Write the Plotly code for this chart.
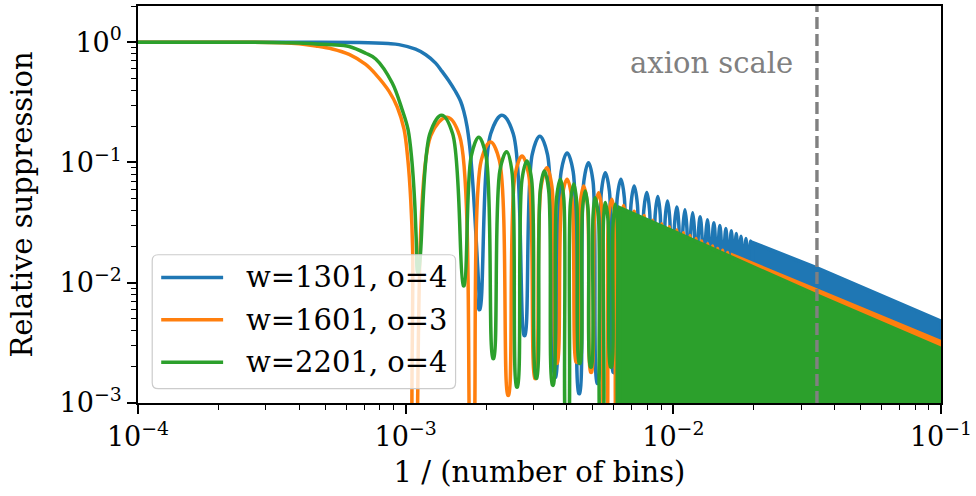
import numpy as np
import plotly.graph_objects as go

# x = 1 / (number of bins), y = relative suppression of the smoothing filter

# ---- w=1301, o=4 ----
blue_main_x = [1e-4, 2.5e-4, 4.5e-4, 6.7e-4, 7.73e-4, 8.6e-4, 9.44e-4, 1.089e-3, 1.189e-3, 1.294e-3,
               1.367e-3, 1.449e-3, 1.534e-3, 1.604e-3, 1.648e-3, 1.695e-3, 1.735e-3,
               1.770e-3, 1.806e-3, 1.845e-3, 1.878e-3]
blue_main_y = [1.0, 1.0, 0.999, 0.994, 0.986, 0.974, 0.955, 0.875, 0.787, 0.67,
               0.572, 0.479, 0.391, 0.323, 0.267, 0.200, 0.136,
               0.082, 0.042, 0.0180, 0.0082]
blue_peak_x = [2.29e-3, 3.17e-3, 4.01e-3, 4.82e-3, 5.57e-3, 6.37e-3, 7.14e-3, 7.96e-3,
               8.75e-3, 9.51e-3, 0.0103, 0.01105, 0.01181, 0.01259, 0.0134, 0.01417,
               0.01492, 0.01571, 0.01647, 0.01719, 0.0179, 0.01868, 0.01943]
blue_peak_y = [0.247, 0.1655, 0.120, 0.0995, 0.0822, 0.0725, 0.0637, 0.0563,
               0.0522, 0.0479, 0.0427, 0.0405, 0.0381, 0.0353, 0.0334, 0.0315,
               0.0299, 0.0282, 0.0271, 0.0257, 0.0244, 0.0233, 0.0222]
blue_shoulder_x = [2.078e-3, 2.523e-3, 2.969e-3, 3.388e-3, 3.810e-3, 4.224e-3, 4.631e-3, 5.011e-3,
                   5.387e-3, 5.771e-3, 6.172e-3, 6.562e-3, 6.948e-3, 7.342e-3, 7.752e-3, 8.157e-3,
                   8.553e-3, 8.938e-3, 9.318e-3, 9.703e-3, 0.010098, 0.010489, 0.010863, 0.011238,
                   0.011618, 0.012003, 0.012394, 0.012793, 0.013199, 0.013589, 0.013974, 0.014359,
                   0.014734, 0.015119, 0.015514, 0.015899, 0.016279, 0.016649, 0.017009, 0.017369,
                   0.017724, 0.018094, 0.018484, 0.018869, 0.019244, 0.019614]
blue_shoulder_y = [0.173, 0.173, 0.116, 0.116, 0.084, 0.084, 0.0697, 0.0697,
                   0.0575, 0.0575, 0.0508, 0.0508, 0.0446, 0.0446, 0.0394, 0.0394,
                   0.0365, 0.0365, 0.0335, 0.0335, 0.0299, 0.0299, 0.0284, 0.0284,
                   0.0267, 0.0267, 0.0247, 0.0247, 0.0234, 0.0234, 0.0221, 0.0221,
                   0.0209, 0.0209, 0.0197, 0.0197, 0.0190, 0.0190, 0.0180, 0.0180,
                   0.0171, 0.0171, 0.0163, 0.0163, 0.0155, 0.0155]
blue_null_x = [1.886e-3, 2.78e-3, 3.62e-3, 4.45e-3, 5.21e-3, 5.98e-3, 6.76e-3, 7.55e-3,
               8.36e-3, 9.13e-3, 9.9e-3, 0.01068, 0.01143, 0.0122, 0.013, 0.01378,
               0.01455, 0.01532, 0.01609, 0.01683, 0.01755, 0.01829, 0.01906, 0.0198]
blue_null_y = [0.0060, 0.00365, 0.00164, 0.0012, 0.00146, 0.0018, 5e-4, 5e-4,
               5e-4, 5e-4, 5e-4, 5e-4, 5e-4, 5e-4, 5e-4, 5e-4,
               5e-4, 5e-4, 5e-4, 5e-4, 5e-4, 5e-4, 5e-4, 5e-4]
blue_env_x = [0.0198, 0.0344, 0.1]
blue_env_y = [0.0216, 0.0133, 0.0048]

# ---- w=1601, o=3 ----
orange_main_x = [1e-4, 2.5e-4, 3.46e-4, 4.0e-4, 4.62e-4, 5.32e-4, 6.15e-4, 7.09e-4, 7.73e-4,
                 8.67e-4, 9.31e-4, 9.86e-4, 1.020e-3, 1.045e-3, 1.062e-3]
orange_main_y = [1.0, 1.0, 0.99, 0.970, 0.930, 0.878, 0.791, 0.653, 0.540,
                 0.390, 0.288, 0.189, 0.103, 0.048, 0.0185]
orange_peak_x = [1.429e-3, 2.075e-3, 2.722e-3, 3.373e-3, 4.009e-3, 4.624e-3, 5.26e-3,
                 5.89e-3, 6.52e-3, 7.14e-3, 7.78e-3, 8.38e-3, 9.05e-3, 9.67e-3,
                 0.0103, 0.01091, 0.01155, 0.01216, 0.01276, 0.01344, 0.01402,
                 0.01464, 0.01528, 0.01595, 0.01665]
orange_peak_y = [0.238, 0.148, 0.113, 0.0904, 0.0725, 0.0637, 0.0561,
                 0.0495, 0.0438, 0.0393, 0.0362, 0.0331, 0.0310, 0.0292,
                 0.0274, 0.0260, 0.0247, 0.0233, 0.0222, 0.0211, 0.0202,
                 0.0193, 0.0186, 0.0178, 0.0170]
orange_shoulder_x = [1.241e-3, 1.590e-3, 1.916e-3, 2.239e-3, 2.564e-3, 2.881e-3, 3.207e-3, 3.518e-3,
                     3.836e-3, 4.175e-3, 4.484e-3, 4.775e-3, 5.092e-3, 5.413e-3, 5.728e-3, 6.043e-3,
                     6.358e-3, 6.673e-3]
orange_shoulder_y = [0.167, 0.167, 0.104, 0.104, 0.079, 0.079, 0.0633, 0.0633,
                     0.0508, 0.0508, 0.0446, 0.0446, 0.0393, 0.0393, 0.0347, 0.0347,
                     0.0307, 0.0307]
orange_null_x = [1.078e-3, 1.770e-3, 2.416e-3, 3.05e-3, 3.67e-3, 4.348e-3, 4.93e-3,
                 5.57e-3, 6.2e-3, 6.83e-3, 7.46e-3, 8.08e-3, 8.72e-3, 9.36e-3,
                 9.98e-3, 0.0106, 0.01123, 0.01185, 0.01246, 0.0131, 0.01373,
                 0.01433, 0.01496, 0.01561, 0.0163]
orange_null_y = [3e-4, 3e-4, 0.00116, 0.0016, 0.00214, 0.00219, 0.0018,
                 5e-4, 5e-4, 5e-4, 5e-4, 5e-4, 5e-4, 5e-4,
                 5e-4, 5e-4, 5e-4, 5e-4, 5e-4, 5e-4, 5e-4,
                 5e-4, 5e-4, 5e-4, 5e-4]
orange_env_x = [0.01665, 0.0344, 0.1]
orange_env_y = [0.0170, 0.00867, 0.00323]

# ---- w=2201, o=4 ----
green_main_x = [1e-4, 2.5e-4, 4.0e-4, 4.62e-4, 5.32e-4, 6.15e-4, 7.09e-4, 7.73e-4, 8.91e-4,
                9.70e-4, 1.020e-3, 1.055e-3, 1.080e-3, 1.099e-3]
green_main_y = [1.0, 1.0, 0.985, 0.966, 0.952, 0.921, 0.81, 0.726, 0.458,
                0.275, 0.189, 0.103, 0.048, 0.0185]
green_peak_x = [1.362e-3, 1.875e-3, 2.383e-3, 2.838e-3, 3.296e-3, 3.784e-3, 4.249e-3,
                4.688e-3, 5.105e-3, 5.572e-3, 6.067e-3]
green_peak_y = [0.247, 0.162, 0.123, 0.103, 0.0849, 0.0725, 0.0662,
                0.0579, 0.0510, 0.0464, 0.0450]
green_shoulder_x = [1.231e-3, 1.498e-3, 1.758e-3, 1.996e-3, 2.250e-3, 2.492e-3, 2.720e-3, 2.955e-3,
                    3.184e-3, 3.420e-3, 3.664e-3, 3.895e-3, 4.127e-3, 4.357e-3, 4.576e-3, 4.803e-3,
                    5.012e-3, 5.248e-3, 5.483e-3, 5.708e-3, 5.957e-3, 6.182e-3]
green_shoulder_y = [0.173, 0.173, 0.113, 0.113, 0.086, 0.086, 0.072, 0.072,
                    0.0594, 0.0594, 0.0508, 0.0508, 0.0463, 0.0463, 0.0405, 0.0405,
                    0.0357, 0.0357, 0.0325, 0.0325, 0.0315, 0.0315]
green_null_x = [1.112e-3, 1.648e-3, 2.125e-3, 2.606e-3, 3.076e-3, 3.548e-3, 4.009e-3,
                4.467e-3, 4.92e-3, 5.395e-3, 5.848e-3, 6.3e-3]
green_null_y = [0.0122, 0.00946, 0.00235, 0.00136, 0.00161, 0.00141, 5e-4,
                0.00214, 0.00199, 5e-4, 0.00199, 5e-4]
green_env_x = [6.3e-3, 9.84e-3, 0.01665, 0.0344, 0.1]
green_env_y = [0.042, 0.0273, 0.0163, 0.00788, 0.00284]

labels = ["w=1301, o=4", "w=1601, o=3", "w=2201, o=4"]
colors = ["#1f77b4", "#ff7f0e", "#2ca02c"]

axion_x = 0.0344
axion_label = "axion scale"

x_tick_vals = [1e-4, 1e-3, 1e-2, 1e-1]
x_tick_text = ["10<sup>−4</sup>", "10<sup>−3</sup>", "10<sup>−2</sup>", "10<sup>−1</sup>"]
y_tick_vals = [1e-3, 1e-2, 1e-1, 1e0]
y_tick_text = ["10<sup>−3</sup>", "10<sup>−2</sup>", "10<sup>−1</sup>", "10<sup>0</sup>"]

FONT = "DejaVu Serif"
FS = 29
TICK_FS = 27
LW = 3.5
FLOOR = 5e-4      # below the visible axis range; closes the dense-band polygons
NULL_GAP = 1.004  # a null is drawn as a narrow notch so the spline keeps it sharp

series = [
    (blue_main_x, blue_main_y, blue_peak_x, blue_peak_y, blue_shoulder_x, blue_shoulder_y,
     blue_null_x, blue_null_y, blue_env_x, blue_env_y),
    (orange_main_x, orange_main_y, orange_peak_x, orange_peak_y, orange_shoulder_x, orange_shoulder_y,
     orange_null_x, orange_null_y, orange_env_x, orange_env_y),
    (green_main_x, green_main_y, green_peak_x, green_peak_y, green_shoulder_x, green_shoulder_y,
     green_null_x, green_null_y, green_env_x, green_env_y),
]

fig = go.Figure()
for (mx, my, px, py, sx, sy, nx, ny, ex, ey), col, name in zip(series, colors, labels):
    nxa = np.asarray(nx, float)
    nya = np.asarray(ny, float)
    lx = np.concatenate([px, sx, nxa / NULL_GAP, nxa * NULL_GAP])
    ly = np.concatenate([py, sy, nya, nya])
    order = np.argsort(lx)
    xs = list(mx) + list(lx[order])
    ys = list(my) + list(ly[order])
    # main lobe and resolved side lobes
    fig.add_trace(go.Scatter(x=xs, y=ys, mode="lines", name=name, showlegend=False,
                             line=dict(color=col, width=LW, shape="spline", smoothing=1.0),
                             hoverinfo="skip"))
    # unresolved fast oscillation: band between the upper envelope and the floor
    bx = [ex[0]] + list(ex) + [ex[-1]]
    by = [FLOOR] + list(ey) + [FLOOR]
    fig.add_trace(go.Scatter(x=bx, y=by, mode="lines", fill="toself", fillcolor=col,
                             showlegend=False, line=dict(color=col, width=LW),
                             hoverinfo="skip"))

# axion scale marker
fig.add_trace(go.Scatter(x=[axion_x, axion_x], y=[1e-3, 2.0], mode="lines", showlegend=False,
                         line=dict(color="#808080", width=3.4, dash="12px,5px"), hoverinfo="skip"))
fig.add_annotation(x=np.log10(axion_x), y=np.log10(0.666), xref="x", yref="y",
                   text=axion_label, showarrow=False, xanchor="right", yanchor="middle",
                   xshift=-22, font=dict(family=FONT, size=FS, color="#808080"))

# legend box (paper coordinates)
x0, x1, y0, y1 = 0.0177, 0.3955, 0.0362, 0.3734
rx, ry = 0.0075, 0.015
path = (f"M{x0+rx},{y0} L{x1-rx},{y0} Q{x1},{y0} {x1},{y0+ry} L{x1},{y1-ry} "
        f"Q{x1},{y1} {x1-rx},{y1} L{x0+rx},{y1} Q{x0},{y1} {x0},{y1-ry} "
        f"L{x0},{y0+ry} Q{x0},{y0} {x0+rx},{y0} Z")
fig.add_shape(type="path", path=path, xref="paper", yref="paper", layer="above",
              fillcolor="rgba(255,255,255,0.8)", line=dict(color="#cccccc", width=1.2))
row_y = [0.3164, 0.2094, 0.1029]
for ry_, col, name in zip(row_y, colors, labels):
    fig.add_shape(type="line", xref="paper", yref="paper", layer="above",
                  x0=0.0289, x1=0.1060, y0=ry_, y1=ry_, line=dict(color=col, width=LW))
    fig.add_annotation(x=0.1324, y=ry_, xref="paper", yref="paper", text=name,
                       showarrow=False, xanchor="left", yanchor="middle",
                       font=dict(family=FONT, size=FS, color="black"))

minor_x = [m * 10.0 ** e for e in range(-4, -1) for m in range(2, 10)]
minor_y = [m * 10.0 ** e for e in range(-3, 1) for m in range(2, 10)]


def log_axis(vals, text, minor_vals):
    return dict(type="log", showline=True, mirror=True, linecolor="black", linewidth=1.6,
                ticks="outside", ticklen=9, tickwidth=1.5, tickcolor="black",
                showgrid=False, zeroline=False, tickmode="array", tickvals=vals, ticktext=text,
                tickfont=dict(family=FONT, size=TICK_FS, color="black"),
                minor=dict(ticks="outside", ticklen=5, tickwidth=1.2, tickcolor="black",
                           tickmode="array", tickvals=minor_vals, showgrid=False))


fig.update_layout(
    width=976, height=496,
    margin=dict(l=138, r=33, t=4, b=93),
    paper_bgcolor="white", plot_bgcolor="white",
    xaxis=dict(range=[-4.00001, -0.99999],
               title=dict(text="1 / (number of bins)", font=dict(family=FONT, size=FS, color="black"),
                          standoff=10),
               **log_axis(x_tick_vals, x_tick_text, minor_x)),
    yaxis=dict(range=[-3.00001, np.log10(2.0)],
               title=dict(text="Relative suppression", font=dict(family=FONT, size=FS, color="black"),
                          standoff=18),
               **log_axis(y_tick_vals, y_tick_text, minor_y)),
)

fig.write_html("out.html")
